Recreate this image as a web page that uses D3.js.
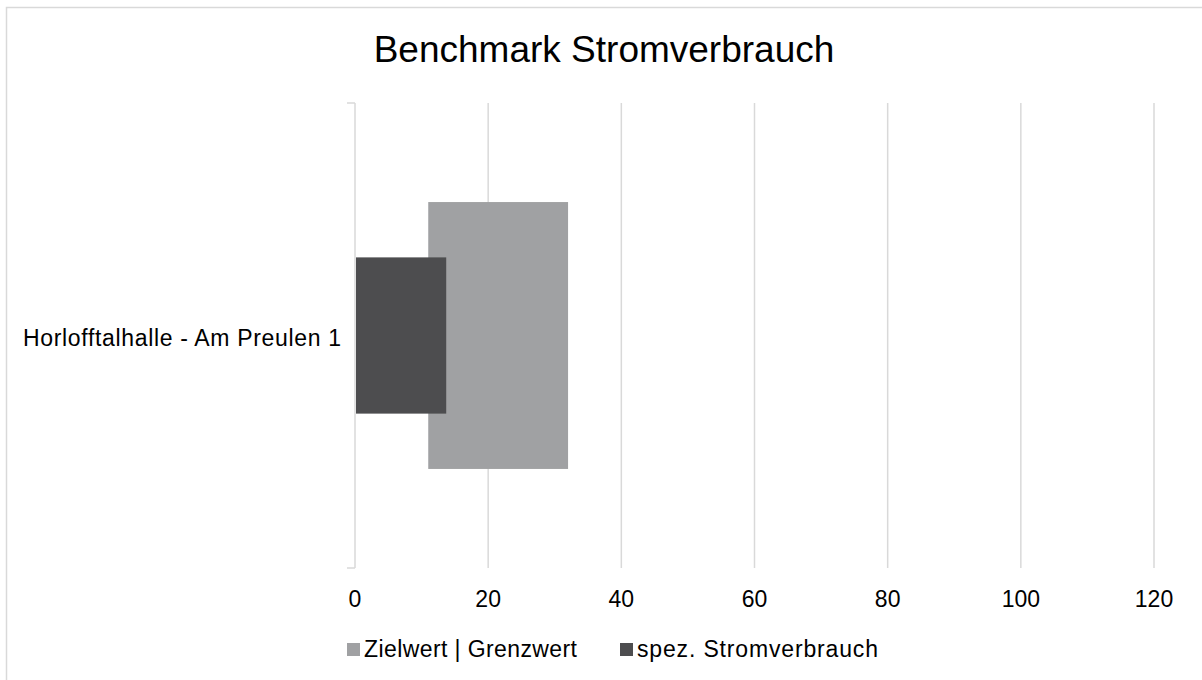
<!DOCTYPE html>
<html lang="de">
<head>
	<meta charset="utf-8">
	<title>Benchmark Stromverbrauch</title>
	<script src="https://d3js.org/d3.v7.min.js"></script>
	<style>
	body { margin: 0; background: #fff; }
	text { font-family: Arial, "Liberation Sans", sans-serif; fill: #000; }
	</style>
</head>
<body>
	<script>
	// Daten
	var categories = ["Horlofftalhalle - Am Preulen 1"];
	var zielwert = [11];       // unteres Ende des Korridors
	var grenzwert = [32];      // oberes Ende des Korridors
	var verbrauch = [13.7];    // spez. Stromverbrauch
	var xTicks = [0, 20, 40, 60, 80, 100, 120];
	var legendLabels = ["Zielwert | Grenzwert", "spez. Stromverbrauch"];

	var w = 1202, h = 680;
	var plotLeft = 355, plotRight = 1154, plotTop = 103, plotBottom = 568;

	var svg = d3.select("body").append("svg")
		.attr("width", w)
		.attr("height", h);

	// Rahmen
	svg.append("rect")
		.attr("x", 6.5).attr("y", 7.5)
		.attr("width", w).attr("height", h)
		.attr("fill", "none")
		.attr("stroke", "#d9d9d9")
		.attr("stroke-width", 1.5);

	svg.append("text")
		.attr("x", 604).attr("y", 62)
		.attr("text-anchor", "middle")
		.style("font-size", "37px")
		.text("Benchmark Stromverbrauch");

	var x = d3.scaleLinear().domain([0, 120]).range([plotLeft, plotRight]);
	var y = d3.scaleBand().domain(categories).range([plotTop, plotBottom]);

	// Gitterlinien
	svg.selectAll("line.grid")
		.data(xTicks.slice(1))
		.enter().append("line")
		.attr("class", "grid")
		.attr("x1", function(d) { return x(d); })
		.attr("x2", function(d) { return x(d); })
		.attr("y1", plotTop).attr("y2", plotBottom)
		.attr("stroke", "#d9d9d9")
		.attr("stroke-width", 1.5);

	// Kategorieachse
	svg.append("line")
		.attr("x1", plotLeft).attr("x2", plotLeft)
		.attr("y1", plotTop).attr("y2", plotBottom)
		.attr("stroke", "#d9d9d9").attr("stroke-width", 1.5);
	[plotTop, plotBottom].forEach(function(yy) {
		svg.append("line")
			.attr("x1", plotLeft - 8).attr("x2", plotLeft)
			.attr("y1", yy).attr("y2", yy)
			.attr("stroke", "#d9d9d9").attr("stroke-width", 1.5);
	});

	var bw = y.bandwidth();
	var cy = function(d) { return y(d) + bw / 2; };

	// Korridor Zielwert bis Grenzwert
	svg.selectAll("rect.range")
		.data(categories)
		.enter().append("rect")
		.attr("class", "range")
		.attr("x", function(d, i) { return x(zielwert[i]); })
		.attr("width", function(d, i) { return x(grenzwert[i]) - x(zielwert[i]); })
		.attr("y", function(d) { return cy(d) - bw * 0.287; })
		.attr("height", bw * 0.574)
		.attr("fill", "#a0a1a3");

	// Verbrauch
	svg.selectAll("rect.val")
		.data(categories)
		.enter().append("rect")
		.attr("class", "val")
		.attr("x", x(0) + 1)
		.attr("width", function(d, i) { return x(verbrauch[i]) - x(0) - 1; })
		.attr("y", function(d) { return cy(d) - bw * 0.168; })
		.attr("height", bw * 0.336)
		.attr("fill", "#4d4d4f");

	// Achsenbeschriftung
	svg.selectAll("text.tick")
		.data(xTicks)
		.enter().append("text")
		.attr("class", "tick")
		.attr("x", function(d) { return x(d); })
		.attr("y", 607)
		.attr("text-anchor", "middle")
		.style("font-size", "23px")
		.text(function(d) { return d; });

	svg.selectAll("text.cat")
		.data(categories)
		.enter().append("text")
		.attr("class", "cat")
		.attr("x", 341)
		.attr("y", function(d) { return cy(d) + 10; })
		.attr("text-anchor", "end")
		.attr("textLength", 318)
		.attr("lengthAdjust", "spacing")
		.style("font-size", "23px")
		.text(function(d) { return d; });

	// Legende
	var legendX = [347, 620];
	var legendLen = [213, 241];
	var legendColors = ["#a0a1a3", "#4d4d4f"];
	legendLabels.forEach(function(lbl, i) {
		svg.append("rect")
			.attr("x", legendX[i]).attr("y", 643)
			.attr("width", 13).attr("height", 13)
			.attr("fill", legendColors[i]);
		svg.append("text")
			.attr("x", legendX[i] + 17).attr("y", 657)
			.attr("textLength", legendLen[i])
			.attr("lengthAdjust", "spacing")
			.style("font-size", "23px")
			.text(lbl);
	});
	</script>
</body>
</html>
